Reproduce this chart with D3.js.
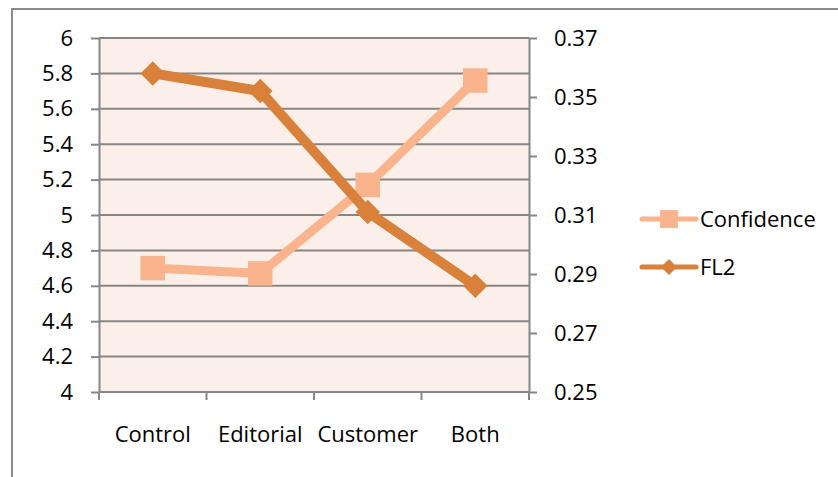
<!DOCTYPE html>
<html>
<head>
<meta charset="utf-8">
<script src="https://cdn.jsdelivr.net/npm/d3@7"></script>
<style>
  html, body { margin: 0; padding: 0; background: #ffffff; }
  svg { display: block; }
  text { font-family: "Open Sans", "Noto Sans", sans-serif; fill: #000; }
</style>
</head>
<body>
<svg id="chart" width="838" height="477"></svg>
<script>
// Groups along the x axis
const categories = ["Control", "Editorial", "Customer", "Both"];
// Confidence score (left axis)
const confidence = [4.70, 4.67, 5.17, 5.76];
// FL2 (right axis)
const fl2 = [0.358, 0.352, 0.311, 0.286];
// Axis tick labels
const leftTicks = [4, 4.2, 4.4, 4.6, 4.8, 5, 5.2, 5.4, 5.6, 5.8, 6];
const rightTicks = [0.25, 0.27, 0.29, 0.31, 0.33, 0.35, 0.37];
const seriesNames = ["Confidence", "FL2"];

const colorConf = "#F9B48D";
const colorFL2 = "#D9803A";
const gridColor = "#868686";
const fontSize = 22;

const svg = d3.select("#chart");

// Outer chart frame
svg.append("rect")
  .attr("x", 12).attr("y", 9)
  .attr("width", 840).attr("height", 480)
  .attr("fill", "none")
  .attr("stroke", "#8c8c8c")
  .attr("stroke-width", 2);

const plot = { left: 99, right: 529, top: 38, bottom: 392 };

const x = d3.scaleBand().domain(categories).range([plot.left, plot.right]);
const yL = d3.scaleLinear().domain([4, 6]).range([plot.bottom, plot.top]);
const yR = d3.scaleLinear().domain([0.25, 0.37]).range([plot.bottom, plot.top]);

// Plot background
svg.append("rect")
  .attr("x", plot.left).attr("y", plot.top)
  .attr("width", plot.right - plot.left).attr("height", plot.bottom - plot.top)
  .attr("fill", "#FCEEE8");

// Horizontal gridlines from the left axis
svg.append("g")
  .selectAll("line")
  .data(leftTicks)
  .join("line")
  .attr("x1", plot.left).attr("x2", plot.right)
  .attr("y1", d => yL(d)).attr("y2", d => yL(d))
  .attr("stroke", gridColor).attr("stroke-width", 2);

function styleAxis(g) {
  g.select(".domain").attr("stroke", gridColor).attr("stroke-width", 2);
  g.selectAll(".tick line").attr("stroke", gridColor).attr("stroke-width", 2);
  g.selectAll("text").attr("font-size", fontSize).attr("fill", "#000")
    .style("font-family", "'Open Sans', sans-serif");
}

// Left axis
svg.append("g")
  .attr("transform", `translate(${plot.left},0)`)
  .call(d3.axisLeft(yL).tickValues(leftTicks).tickFormat(d => String(d)).tickSizeInner(8).tickSizeOuter(0).tickPadding(18))
  .call(styleAxis);

// Right axis
svg.append("g")
  .attr("transform", `translate(${plot.right},0)`)
  .call(d3.axisRight(yR).tickValues(rightTicks).tickFormat(d3.format(".2f")).tickSizeInner(8).tickSizeOuter(0).tickPadding(17))
  .call(styleAxis);

// Bottom axis: ticks at band boundaries, labels at band centres
const bottom = svg.append("g").attr("transform", `translate(0,${plot.bottom})`);
bottom.append("line")
  .attr("x1", plot.left).attr("x2", plot.right)
  .attr("stroke", gridColor).attr("stroke-width", 2);
const bounds = categories.map(c => x(c)).concat([x(categories[categories.length - 1]) + x.bandwidth()]);
bottom.selectAll(".bt")
  .data(bounds)
  .join("line")
  .attr("x1", d => d).attr("x2", d => d)
  .attr("y1", 0).attr("y2", 8)
  .attr("stroke", gridColor).attr("stroke-width", 2);
bottom.selectAll("text")
  .data(categories)
  .join("text")
  .attr("x", d => x(d) + x.bandwidth() / 2)
  .attr("y", 50)
  .attr("text-anchor", "middle")
  .attr("font-size", fontSize)
  .text(d => d);

const cx = c => x(c) + x.bandwidth() / 2;

// Confidence line with square markers
const confPts = categories.map((c, i) => [cx(c), yL(confidence[i])]);
svg.append("path")
  .attr("d", d3.line()(confPts))
  .attr("fill", "none")
  .attr("stroke", colorConf)
  .attr("stroke-width", 9)
  .attr("stroke-linejoin", "round");
svg.append("g")
  .selectAll("path")
  .data(confPts)
  .join("path")
  .attr("transform", d => `translate(${d[0]},${d[1]})`)
  .attr("d", d3.symbol(d3.symbolSquare, 600)())
  .attr("fill", colorConf);

// FL2 line with diamond markers
const flPts = categories.map((c, i) => [cx(c), yR(fl2[i])]);
svg.append("path")
  .attr("d", d3.line()(flPts))
  .attr("fill", "none")
  .attr("stroke", colorFL2)
  .attr("stroke-width", 10)
  .attr("stroke-linejoin", "round");
svg.append("g")
  .selectAll("path")
  .data(flPts)
  .join("path")
  .attr("transform", d => `translate(${d[0]},${d[1]}) rotate(45)`)
  .attr("d", d3.symbol(d3.symbolSquare, 300)())
  .attr("fill", colorFL2);

// Legend
const legend = svg.append("g");
const legendItems = [
  { name: seriesNames[0], color: colorConf, y: 219, diamond: false },
  { name: seriesNames[1], color: colorFL2, y: 267, diamond: true }
];
legendItems.forEach(item => {
  legend.append("line")
    .attr("x1", 642).attr("x2", 696)
    .attr("y1", item.y).attr("y2", item.y)
    .attr("stroke", item.color).attr("stroke-width", 5)
    .attr("stroke-linecap", "round");
  legend.append("path")
    .attr("transform", `translate(669,${item.y})` + (item.diamond ? " rotate(45)" : ""))
    .attr("d", d3.symbol(d3.symbolSquare, item.diamond ? 130 : 320)())
    .attr("fill", item.color);
  legend.append("text")
    .attr("x", 700).attr("y", item.y + 8)
    .attr("font-size", fontSize)
    .text(item.name);
});
</script>
</body>
</html>
